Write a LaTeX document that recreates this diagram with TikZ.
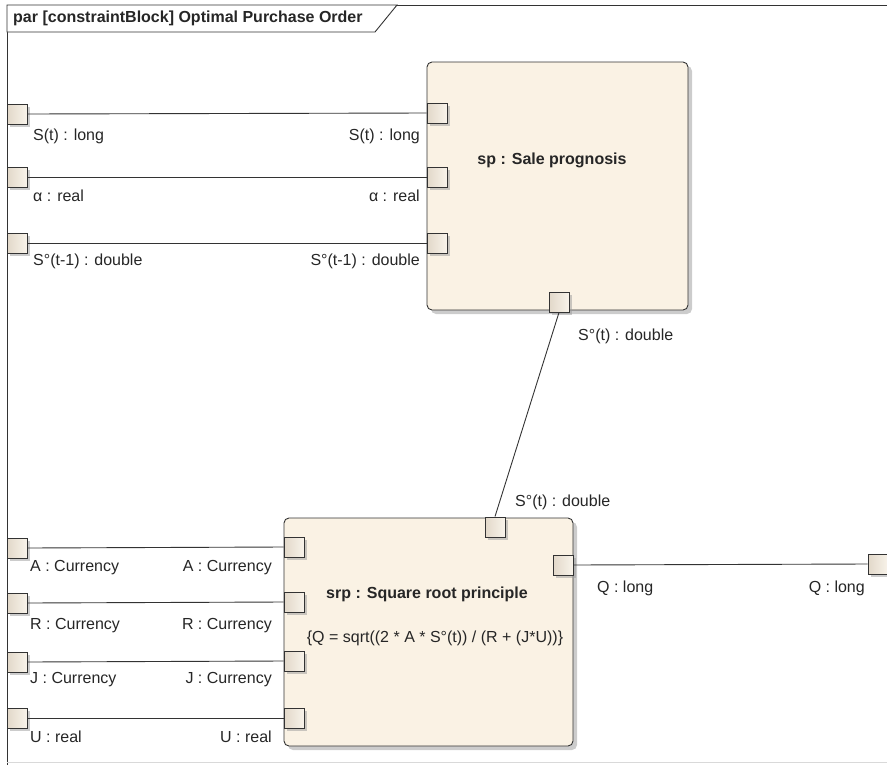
\documentclass[tikz,border=0pt]{standalone}
\usepackage{fontspec}
\setmainfont{Liberation Sans}
\usetikzlibrary{shadows}

\definecolor{creme}{HTML}{FAF2E4}
\definecolor{portaesc}{HTML}{E2D8C9}
\definecolor{portaclara}{HTML}{F8F3EA}
\definecolor{traco}{HTML}{333333}

\begin{document}
\begin{tikzpicture}[x=1pt,y=-1pt]
\tikzstyle{bloco}=[draw=traco, line width=0.9pt, fill=creme, rounded corners=5pt, inner sep=0pt, drop shadow={shadow xshift=4pt, shadow yshift=-4pt, fill=black!40, opacity=0.5}]
\tikzstyle{porta}=[draw=traco, line width=0.9pt, left color=portaesc, right color=portaclara, minimum size=20pt, inner sep=0pt, drop shadow={shadow xshift=3pt, shadow yshift=-3pt, fill=black!40, opacity=0.5}]
\tikzstyle{ligacao}=[traco, line width=0.9pt]
\tikzstyle{rotulo}=[font=\fontsize{16}{18}\selectfont, inner sep=0pt, text=black!85]
\tikzstyle{titulo}=[font=\bfseries\fontsize{16}{18}\selectfont, inner sep=0pt, text=black!85]
\useasboundingbox (0,0) rectangle (887,764);
\clip (0,0) rectangle (887,764);

% moldura do diagrama
\draw[traco, line width=0.9pt] (7,770) -- (7,5) -- (900,5);
\draw[black!15, line width=0.8pt] (7,762) -- (900,762);
\draw[traco, line width=0.9pt, fill=white] (7,5) -- (397,5) -- (375,32) -- (7,32) -- cycle;
\node[titulo, anchor=west] (cab) at (13,18) {par [constraintBlock] Optimal Purchase Order};

% blocos
\node[bloco, minimum width=261pt, minimum height=248pt] (sp) at (557.5,186) {};
\node[titulo] (sptxt) at (552,160) {sp : Sale prognosis};
\node[bloco, minimum width=289pt, minimum height=228pt] (srp) at (428.5,632) {};
\node[titulo] (srptxt) at (427,594) {srp : Square root principle};
\node[rotulo] (formula) at (435,638) {\{Q = sqrt((2 * A * S°(t)) / (R + (J*U))\}};

% portas do sp
\node[porta] (spS) at (437,113) {};
\node[porta] (spA) at (437,177) {};
\node[porta] (spV) at (437,243) {};
\node[porta] (spO) at (559,302) {};

% portas do srp
\node[porta] (srpS) at (495,527) {};
\node[porta] (srpQ) at (563,565) {};
\node[porta] (srpA) at (294,547) {};
\node[porta] (srpR) at (294,602) {};
\node[porta] (srpJ) at (294,661) {};
\node[porta] (srpU) at (294,718) {};

% portas da moldura
\node[porta] (fS) at (17,114) {};
\node[porta] (fA) at (17,177) {};
\node[porta] (fV) at (17,243) {};
\node[porta] (fpA) at (17,548) {};
\node[porta] (fpR) at (17,603) {};
\node[porta] (fpJ) at (17,662) {};
\node[porta] (fpU) at (17,718) {};
\node[porta] (fQ) at (878,564) {};

% ligacoes
\draw[ligacao] (fS.east) -- (spS.west);
\draw[ligacao] (fA.east) -- (spA.west);
\draw[ligacao] (fV.east) -- (spV.west);
\draw[ligacao] (fpA.east) -- (srpA.west);
\draw[ligacao] (fpR.east) -- (srpR.west);
\draw[ligacao] (fpJ.east) -- (srpJ.west);
\draw[ligacao] (fpU.east) -- (srpU.west);
\draw[ligacao] (srpQ.east) -- (fQ.west);
\draw[ligacao] (spO.south) -- (srpS.north);

% rotulos das portas
\node[rotulo, anchor=west] (lS1) at (33,136) {S(t) : long};
\node[rotulo, anchor=east] (lS2) at (420,136) {S(t) : long};
\node[rotulo, anchor=west] (lA1) at (33,196) {α : real};
\node[rotulo, anchor=east] (lA2) at (420,196) {α : real};
\node[rotulo, anchor=west] (lV1) at (33,261) {S°(t-1) : double};
\node[rotulo, anchor=east] (lV2) at (420,261) {S°(t-1) : double};
\node[rotulo, anchor=west] (lO) at (578,336) {S°(t) : double};
\node[rotulo, anchor=west] (lI) at (515,502) {S°(t) : double};
\node[rotulo, anchor=west] (lpA1) at (30,568) {A : Currency};
\node[rotulo, anchor=east] (lpA2) at (272,568) {A : Currency};
\node[rotulo, anchor=west] (lpR1) at (30,626) {R : Currency};
\node[rotulo, anchor=east] (lpR2) at (272,626) {R : Currency};
\node[rotulo, anchor=west] (lpJ1) at (30,680) {J : Currency};
\node[rotulo, anchor=east] (lpJ2) at (272,680) {J : Currency};
\node[rotulo, anchor=west] (lpU1) at (30,737) {U : real};
\node[rotulo, anchor=east] (lpU2) at (272,737) {U : real};
\node[rotulo, anchor=west] (lQ1) at (597,588) {Q : long};
\node[rotulo, anchor=east] (lQ2) at (865,588) {Q : long};
\end{tikzpicture}
\end{document}
